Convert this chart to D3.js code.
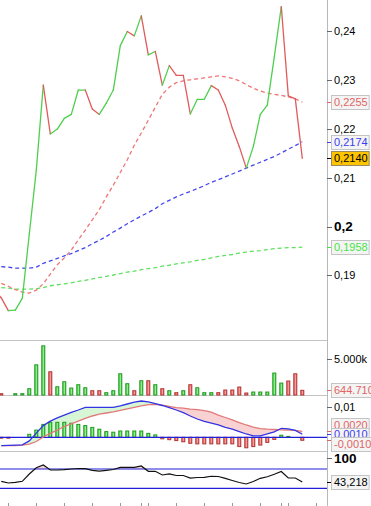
<!DOCTYPE html>
<html>
<head>
<meta charset="utf-8">
<title>Chart</title>
<script src="https://cdn.jsdelivr.net/npm/d3@7"></script>
<style>
  body { margin: 0; background: #fff; }
  svg { display: block; font-family: "Liberation Sans", Arial, sans-serif; font-size: 11px; }
</style>
</head>
<body>
<script>
// closes, one per bar (prevClose is the bar just left of the view)
var prevClose = 0.1870;
var closes = [0.1854, 0.1828, 0.1829, 0.1853, 0.1985, 0.2116, 0.2290, 0.2190, 0.2200, 0.2222,
  0.2230, 0.2280, 0.2280, 0.2241, 0.2230, 0.2253, 0.2280, 0.2371, 0.2400, 0.2391,
  0.2432, 0.2352, 0.2359, 0.2290, 0.2330, 0.2310, 0.2310, 0.2231, 0.2261, 0.2261,
  0.2289, 0.2280, 0.2249, 0.2202, 0.2164, 0.2120, 0.2164, 0.2230, 0.2249, 0.2348,
  0.2451, 0.2268, 0.2262, 0.2140];
// volume in thousands
var volumes = [180, 0, 180, 180, 870, 4170, 6790, 3210, 1140, 1830,
  960, 1420, 1000, 590, 590, 320, 590, 2930, 1560, 590,
  1970, 1970, 1420, 870, 590, 320, 590, 1420, 1000, 320,
  320, 320, 690, 690, 1100, 275, 410, 410, 410, 3030,
  1650, 1930, 2930, 644.71];
var maRed = [0.1884, 0.1878, 0.1871, 0.1866, 0.1864, 0.1870, 0.1883, 0.1903, 0.1922, 0.1936,
  0.1952, 0.1973, 0.1993, 0.2014, 0.2035, 0.2061, 0.2085, 0.2111, 0.2137, 0.2167,
  0.2192, 0.2218, 0.2245, 0.2271, 0.2286, 0.2295, 0.2299, 0.2301, 0.2303, 0.2305,
  0.2307, 0.2309, 0.2307, 0.2304, 0.2299, 0.2291, 0.2284, 0.2278, 0.2274, 0.2271,
  0.2269, 0.2266, 0.2262, 0.2255];
var maBlue = [0.1918, 0.1917, 0.1915, 0.1915, 0.1915, 0.1917, 0.1925, 0.1930, 0.1935, 0.1940,
  0.1945, 0.1951, 0.1957, 0.1965, 0.1972, 0.1980, 0.1989, 0.1997, 0.2006, 0.2014,
  0.2022, 0.2029, 0.2037, 0.2047, 0.2054, 0.2061, 0.2067, 0.2072, 0.2078, 0.2084,
  0.2091, 0.2096, 0.2102, 0.2108, 0.2114, 0.2120, 0.2126, 0.2132, 0.2138, 0.2144,
  0.2151, 0.2159, 0.2166, 0.2174];
var maGreen = [0.1875, 0.1874, 0.1872, 0.1872, 0.1872, 0.1873, 0.1875, 0.1879, 0.1881, 0.1883,
  0.1885, 0.1888, 0.1890, 0.1893, 0.1896, 0.1898, 0.1901, 0.1904, 0.1907, 0.1909,
  0.1912, 0.1914, 0.1916, 0.1919, 0.1921, 0.1924, 0.1926, 0.1928, 0.1931, 0.1933,
  0.1936, 0.1939, 0.1941, 0.1943, 0.1946, 0.1948, 0.1950, 0.1951, 0.1953, 0.1955,
  0.1956, 0.1957, 0.1957, 0.1958];
var macdLine = [-0.0028, -0.0027, -0.0026, -0.0025, -0.0012, 0.0014, 0.0039, 0.0054, 0.0065, 0.0074,
  0.0083, 0.0091, 0.0100, 0.0100, 0.0100, 0.0100, 0.0100, 0.0105, 0.0111, 0.0117,
  0.0121, 0.0118, 0.0112, 0.0106, 0.0099, 0.0091, 0.0082, 0.0071, 0.0061, 0.0053,
  0.0047, 0.0041, 0.0033, 0.0027, 0.0019, 0.0011, 0.0005, 0.0005, 0.0011, 0.0018,
  0.0030, 0.0028, 0.0023, 0.0010];
var signalLine = [-0.0028, -0.0028, -0.0028, -0.0026, -0.0023, -0.0014, 0.0001, 0.0013, 0.0024, 0.0036,
  0.0045, 0.0054, 0.0063, 0.0071, 0.0077, 0.0081, 0.0085, 0.0090, 0.0095, 0.0100,
  0.0105, 0.0109, 0.0110, 0.0107, 0.0103, 0.0099, 0.0097, 0.0094, 0.0092, 0.0089,
  0.0084, 0.0074, 0.0066, 0.0058, 0.0049, 0.0041, 0.0034, 0.0029, 0.0027, 0.0026,
  0.0025, 0.0024, 0.0023, 0.0020];
var macdHist = [-0.0003, -0.0003, 0, 0, 0.0010, 0.0024, 0.0043, 0.0050, 0.0050, 0.0050,
  0.0047, 0.0043, 0.0039, 0.0033, 0.0027, 0.0019, 0.0017, 0.0021, 0.0021, 0.0021,
  0.0021, 0.0013, 0.0008, -0.0005, -0.0008, -0.0011, -0.0015, -0.0020, -0.0022, -0.0022,
  -0.0022, -0.0022, -0.0022, -0.0022, -0.0031, -0.0035, -0.0031, -0.0026, -0.0017, -0.0007,
  0.0007, 0.0003, 0, -0.0010];
var rsi = [44.5, 41.0, 42.4, 44.5, 59.6, 72.7, 78.3, 67.9, 67.9, 68.5,
  70.0, 71.0, 70.6, 67.3, 65.4, 67.3, 69.0, 73.5, 73.5, 73.5,
  76.2, 65.2, 65.2, 57.6, 60.0, 56.5, 56.5, 51.3, 52.4, 52.8,
  54.9, 54.5, 50.7, 46.2, 42.0, 38.9, 44.1, 50.7, 54.0, 59.0,
  64.8, 51.3, 51.3, 43.218];

var priceTicks = [0.19, 0.2, 0.21, 0.22, 0.23, 0.24];
var volTicks = [5000];
var macdTicks = [0.01];
var rsiTicks = [100];
var rsiBands = [30, 70];
var dateTicks = [1, 5, 9, 13, 17, 20, 21, 25, 29, 33, 37, 40, 41, 45];

var W = 371, H = 506, right = 327;
var upCol = "#4fcf4f", downCol = "#e05c5c";

var x = d3.scaleLinear().domain([0, 46]).range([1.3, 323.3]);
var yPrice = d3.scaleLinear().domain([0.17678, 0.24645]).range([340, 0]);
var yVol = d3.scaleLinear().domain([0, 7600]).range([395, 340]);
var yMacd = d3.scaleLinear().domain([-0.00457, 0.0141]).range([451, 395]);
var yRsi = d3.scaleLinear().domain([-6.7, 107.3]).range([506, 451]);

var svg = d3.select("body").append("svg").attr("width", W).attr("height", H);
var defs = svg.append("defs");

function grad(id, c1, c2) {
  var g = defs.append("linearGradient").attr("id", id).attr("x1", "0").attr("x2", "1");
  g.append("stop").attr("offset", "0").attr("stop-color", c1);
  g.append("stop").attr("offset", "0.5").attr("stop-color", c2);
  g.append("stop").attr("offset", "1").attr("stop-color", c1);
}
grad("gUp", "#3cc83c", "#9af29a");
grad("gDown", "#e45a5a", "#f6a4a4");

defs.append("clipPath").attr("id", "cPrice").append("rect")
  .attr("x", 0).attr("y", 0).attr("width", right).attr("height", 340);

function comma(v, d) { return v.toFixed(d).replace(".", ","); }

// panel separators and right axis
[340.5, 395.5, 451.5].forEach(function(y) {
  svg.append("line").attr("x1", 0).attr("x2", right).attr("y1", y).attr("y2", y)
    .attr("stroke", "#c4c4c4");
});
svg.append("line").attr("x1", right + 0.5).attr("x2", right + 0.5).attr("y1", 0).attr("y2", H)
  .attr("stroke", "#b8b8b8");

// ---------- price panel ----------
var gp = svg.append("g").attr("clip-path", "url(#cPrice)");

function dashed(data, col) {
  gp.append("path").datum(data)
    .attr("fill", "none").attr("stroke", col).attr("stroke-width", 1.3)
    .attr("stroke-dasharray", "4,3")
    .attr("d", d3.line().x(function(d, i) { return x(i); }).y(function(d) { return yPrice(d); }));
}
dashed(maGreen, "#5ee05e");
dashed(maBlue, "#4646f0");
dashed(maRed, "#ee7676");

// close line, coloured by the last direction of change
var pts = [{i: -1, v: prevClose}].concat(closes.map(function(v, i) { return {i: i, v: v}; }));
var lastUp = false;
for (var k = 1; k < pts.length; k++) {
  var dv = pts[k].v - pts[k - 1].v;
  if (dv > 0) lastUp = true; else if (dv < 0) lastUp = false;
  gp.append("line")
    .attr("x1", x(pts[k - 1].i)).attr("y1", yPrice(pts[k - 1].v))
    .attr("x2", x(pts[k].i)).attr("y2", yPrice(pts[k].v))
    .attr("stroke", lastUp ? upCol : downCol).attr("stroke-width", 1.3)
    .attr("stroke-linecap", "round");
}

// ---------- volume ----------
function isUp(i) { return closes[i] >= (i ? closes[i - 1] : prevClose); }
svg.selectAll(".vb").data(volumes.map(function(v, i) { return {v: v, i: i}; }).filter(function(d) { return d.v > 0; }))
  .enter().append("rect").attr("class", "vb")
  .attr("x", function(d) { return x(d.i) - 1.5; })
  .attr("width", 3)
  .attr("y", function(d) { return yVol(d.v); })
  .attr("height", function(d) { return Math.max(0.5, yVol(0) - yVol(d.v)); })
  .attr("fill", function(d) { return isUp(d.i) ? "url(#gUp)" : "url(#gDown)"; })
  .attr("stroke", function(d) { return isUp(d.i) ? "#1f9a1f" : "#b23434"; })
  .attr("stroke-width", 1);

// ---------- MACD ----------
var macdPts = macdLine.map(function(v, i) { return {i: i, m: v, s: signalLine[i]}; });
defs.append("clipPath").attr("id", "cAbove").append("path").datum(macdPts)
  .attr("d", d3.area().x(function(d) { return x(d.i); }).y0(395).y1(function(d) { return yMacd(d.s); }));
defs.append("clipPath").attr("id", "cBelow").append("path").datum(macdPts)
  .attr("d", d3.area().x(function(d) { return x(d.i); }).y0(451).y1(function(d) { return yMacd(d.s); }));
var between = d3.area().x(function(d) { return x(d.i); })
  .y0(function(d) { return yMacd(d.s); }).y1(function(d) { return yMacd(d.m); });
svg.append("path").datum(macdPts).attr("d", between).attr("fill", "#d6f6d6").attr("clip-path", "url(#cAbove)");
svg.append("path").datum(macdPts).attr("d", between).attr("fill", "#f8d2d2").attr("clip-path", "url(#cBelow)");

svg.selectAll(".hb").data(macdHist.map(function(v, i) { return {v: v, i: i}; }).filter(function(d) { return d.v !== 0; }))
  .enter().append("rect").attr("class", "hb")
  .attr("x", function(d) { return x(d.i) - 1.5; })
  .attr("width", 3)
  .attr("y", function(d) { return Math.min(yMacd(0), yMacd(d.v)); })
  .attr("height", function(d) { return Math.max(0.5, Math.abs(yMacd(d.v) - yMacd(0))); })
  .attr("fill", function(d) { return d.v > 0 ? "url(#gUp)" : "url(#gDown)"; })
  .attr("stroke", function(d) { return d.v > 0 ? "#1f9a1f" : "#b23434"; });

svg.append("line").attr("x1", 0).attr("x2", right).attr("y1", yMacd(0)).attr("y2", yMacd(0))
  .attr("stroke", "#2020d8").attr("stroke-width", 1.2);
svg.append("path").datum(signalLine).attr("fill", "none").attr("stroke", "#e27878").attr("stroke-width", 1.3)
  .attr("d", d3.line().x(function(d, i) { return x(i); }).y(function(d) { return yMacd(d); }));
svg.append("path").datum(macdLine).attr("fill", "none").attr("stroke", "#3434e4").attr("stroke-width", 1.3)
  .attr("d", d3.line().x(function(d, i) { return x(i); }).y(function(d) { return yMacd(d); }));

// ---------- RSI ----------
defs.append("clipPath").attr("id", "cRsi").append("rect")
  .attr("x", 0).attr("y", 451).attr("width", right).attr("height", yRsi(70) - 451);
svg.append("path").datum(rsi).attr("fill", "#f6d4d4").attr("clip-path", "url(#cRsi)")
  .attr("d", d3.area().x(function(d, i) { return x(i); }).y0(yRsi(70)).y1(function(d) { return yRsi(d); }));
rsiBands.forEach(function(b) {
  svg.append("line").attr("x1", 0).attr("x2", right).attr("y1", yRsi(b)).attr("y2", yRsi(b))
    .attr("stroke", "#2020d8").attr("stroke-width", 1.2);
});
svg.append("path").datum(rsi).attr("fill", "none").attr("stroke", "#111").attr("stroke-width", 1.2)
  .attr("d", d3.line().x(function(d, i) { return x(i); }).y(function(d) { return yRsi(d); }));

// date ticks
svg.selectAll(".dt").data(dateTicks).enter().append("line").attr("class", "dt")
  .attr("x1", function(d) { return Math.round(x(d)) + 0.5; })
  .attr("x2", function(d) { return Math.round(x(d)) + 0.5; })
  .attr("y1", 503).attr("y2", H).attr("stroke", "#999");

// ---------- right labels ----------
var axisG = svg.append("g");
function tickLabel(y, text, bold) {
  axisG.append("line").attr("x1", right).attr("x2", right + 5).attr("y1", Math.round(y) + 0.5)
    .attr("y2", Math.round(y) + 0.5).attr("stroke", "#666");
  axisG.append("text").attr("x", 334).attr("y", y).attr("dy", "0.35em")
    .attr("font-weight", bold ? "bold" : null).attr("font-size", bold ? "13.5px" : null)
    .attr("fill", "#000").text(text);
}
function boxLabel(y, text, col, fill, tickY) {
  axisG.append("line").attr("x1", right).attr("x2", right + 5).attr("y1", Math.round(tickY) + 0.5)
    .attr("y2", Math.round(tickY) + 0.5).attr("stroke", col);
  var r = axisG.append("rect").attr("x", 331.5).attr("y", Math.round(y) - 6.5).attr("height", 14)
    .attr("fill", fill).attr("stroke", fill === "#ffc400" ? "#9a8a60" : "#c4c4c4");
  var t = axisG.append("text").attr("x", 334).attr("y", y).attr("dy", "0.35em").attr("fill", col).text(text);
  r.attr("width", t.node().getComputedTextLength() + 4);
}

priceTicks.forEach(function(v) {
  var bold = Math.abs(v * 10 - Math.round(v * 10)) < 1e-9;
  tickLabel(yPrice(v), comma(v, bold ? 1 : 2), bold);
});
volTicks.forEach(function(v) { tickLabel(yVol(v), d3.format(",")(v).replace(",", ".") + "k", false); });
macdTicks.forEach(function(v) { tickLabel(yMacd(v), comma(v, 2), false); });
rsiTicks.forEach(function(v) { tickLabel(Math.max(458, yRsi(v)), String(v), true); });

var last = closes.length - 1;
boxLabel(yPrice(maRed[last]), comma(maRed[last], 4), "#e06464", "#f4f4f4", yPrice(maRed[last]));
boxLabel(yPrice(maBlue[last]), comma(maBlue[last], 4), "#3c3cf0", "#f4f4f4", yPrice(maBlue[last]));
boxLabel(yPrice(closes[last]), comma(closes[last], 4), "#000", "#ffc400", yPrice(closes[last]));
boxLabel(yPrice(maGreen[last]), comma(maGreen[last], 4), "#44e444", "#f4f4f4", yPrice(maGreen[last]));

var volTxt = d3.format(",")(Math.round(volumes[last] * 1000)).replace(/,/g, ".");
boxLabel(Math.max(yVol(volumes[last]), 390), volTxt, "#e06464", "#f4f4f4", yVol(volumes[last]));

// MACD value labels, pushed apart a little (they still overlap, as in the source)
var ml = [
  {v: signalLine[last], col: "#e06464"},
  {v: macdLine[last], col: "#3c3cf0"},
  {v: macdHist[last], col: "#e06464"}
];
ml.forEach(function(d) { d.y = yMacd(d.v); d.t = d.y; });
ml.sort(function(a, b) { return a.y - b.y; });
for (var it = 0; it < 40; it++) {
  for (var j = 1; j < ml.length; j++) {
    var gap = ml[j].y - ml[j - 1].y;
    if (gap < 9.5) { var p = (9.5 - gap) / 2; ml[j - 1].y -= p; ml[j].y += p; }
  }
  ml.forEach(function(d) { d.y = Math.min(d.y, 444); });
}
ml.forEach(function(d) { boxLabel(d.y, comma(d.v, 4), d.col, "#f4f4f4", d.t); });

boxLabel(yRsi(rsi[last]), comma(rsi[last], 3), "#000", "#f4f4f4", yRsi(rsi[last]));
</script>
</body>
</html>
